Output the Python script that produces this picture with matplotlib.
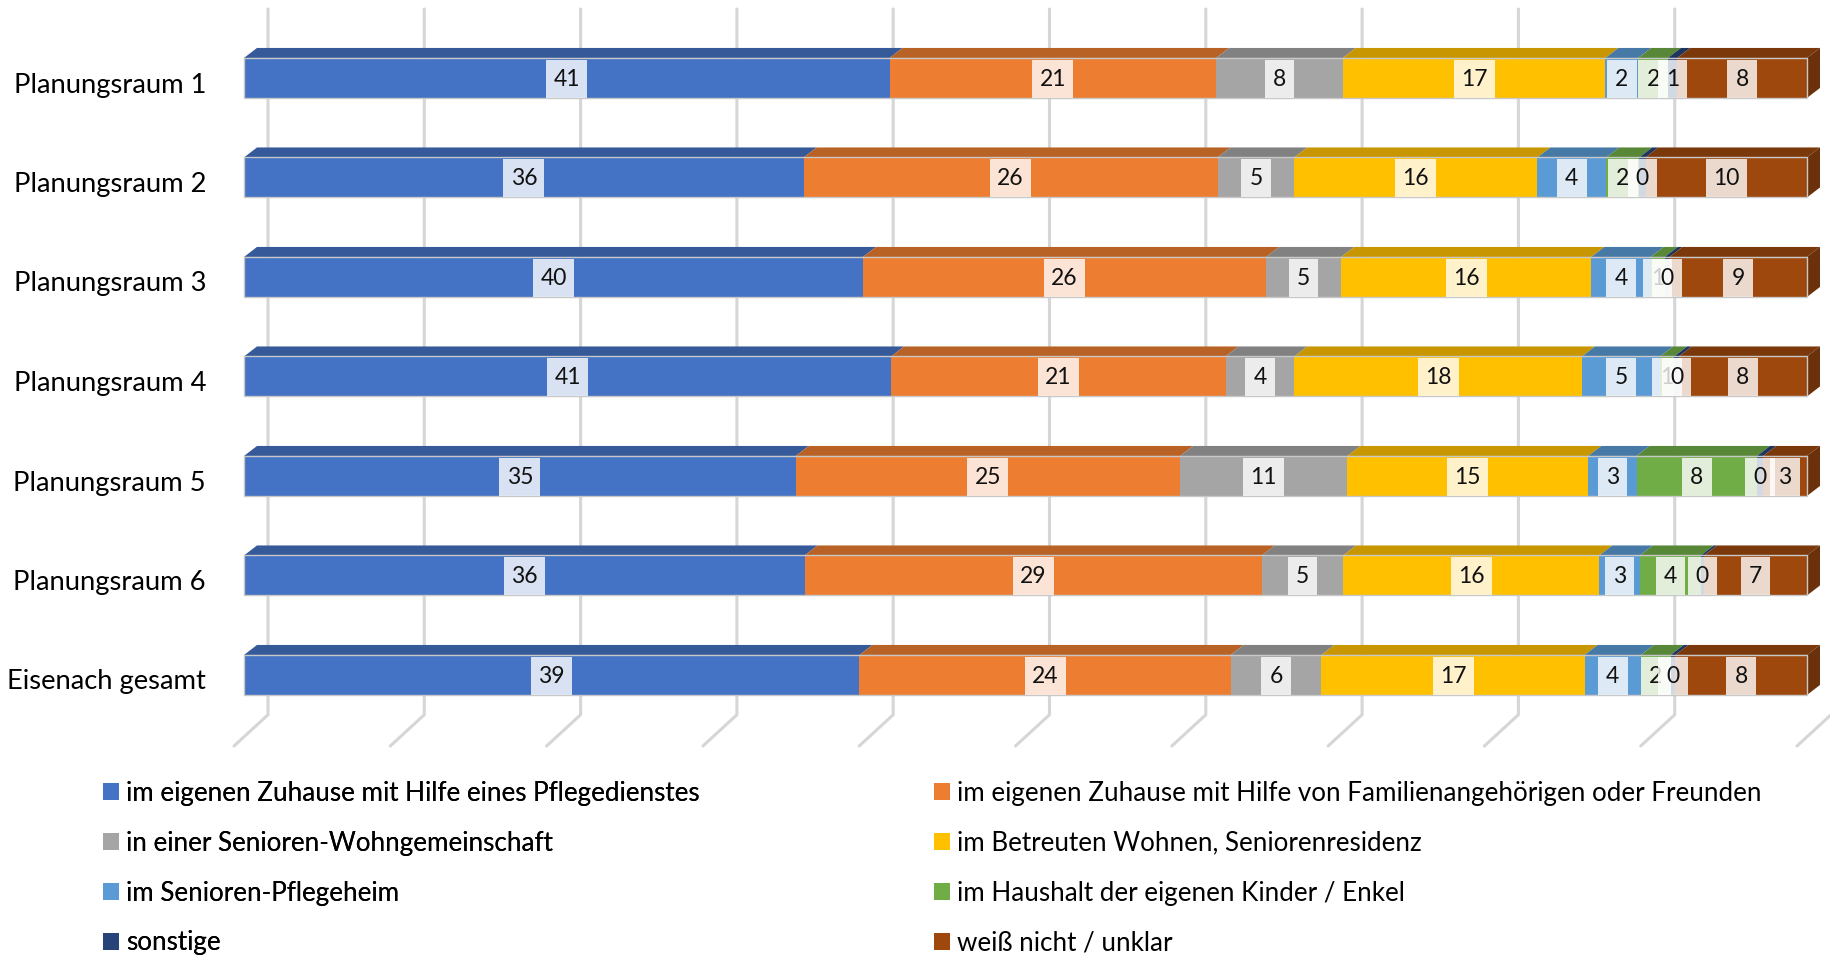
import matplotlib
matplotlib.use("Agg")
import matplotlib.pyplot as plt
from matplotlib.patches import Rectangle, Polygon, Patch
import numpy as np

plt.rcParams['font.family'] = ['Lato', 'DejaVu Sans']

categories = ["Planungsraum 1", "Planungsraum 2", "Planungsraum 3", "Planungsraum 4",
              "Planungsraum 5", "Planungsraum 6", "Eisenach gesamt"]
series_names = [
    "im eigenen Zuhause mit Hilfe eines Pflegedienstes",
    "im eigenen Zuhause mit Hilfe von Familienangehörigen oder Freunden",
    "in einer Senioren-Wohngemeinschaft",
    "im Betreuten Wohnen, Seniorenresidenz",
    "im Senioren-Pflegeheim",
    "im Haushalt der eigenen Kinder / Enkel",
    "sonstige",
    "weiß nicht / unklar",
]
pflegedienst = [41.3, 35.7, 39.6, 41.4, 35.3, 35.9, 39.3]
familie      = [20.9, 26.4, 25.8, 21.4, 24.6, 29.3, 23.7]
wg           = [8.1, 4.9, 4.8, 4.4, 10.7, 5.2, 5.8]
betreut      = [16.8, 15.5, 16.0, 18.4, 15.4, 16.4, 16.8]
pflegeheim   = [2.1, 4.4, 3.8, 5.0, 3.1, 2.6, 3.6]
kinder       = [1.9, 2.1, 0.9, 0.9, 7.7, 3.9, 1.9]
sonstige     = [0.6, 0.4, 0.3, 0.3, 0.4, 0.2, 0.3]
weiss_nicht  = [8.3, 10.3, 8.8, 8.2, 2.8, 6.6, 8.4]
colors = ["#4472C4", "#ED7D31", "#A5A5A5", "#FFC000",
          "#5B9BD5", "#70AD47", "#264478", "#9E480E"]

data = np.array([pflegedienst, familie, wg, betreut, pflegeheim, kinder, sonstige, weiss_nicht])
pct = data / data.sum(axis=0) * 100.0

W, H = 1830, 956
fig = plt.figure(figsize=(W / 100, H / 100), dpi=100)
fig.patch.set_facecolor("white")

ax_left, ax_right, ax_top, ax_bot = 244, 1807, 9, 746
ax = fig.add_axes([ax_left / W, 1 - ax_bot / H, (ax_right - ax_left) / W, (ax_bot - ax_top) / H])
ax.set_xlim(0, 100)
ax.set_ylim(6.714, -0.693)
ax.axis("off")

pxx = (ax_right - ax_left) / 100.0   # px per percent
pxy = 99.5                           # px per row

# back wall gridlines with floor diagonals
wall_dx = 24 / pxx
floor_dx = -10 / pxx
floor_back_y = 6.40
for v in np.arange(0, 101, 10):
    ax.plot([v + wall_dx, v + wall_dx, v + floor_dx], [-0.693, floor_back_y, 6.714],
            color="#D6D6D6", lw=2.2, solid_capstyle="round", solid_joinstyle="round",
            clip_on=False, zorder=1)

def shade(c, f):
    r, g, b = matplotlib.colors.to_rgb(c)
    return (r * f, g * f, b * f)

bar_h = 40 / pxy
ddx = 13 / pxx
ddy = 10 / pxy
box_h = 38 / pxy
digit_w = 11.5 / pxx
box_pad = 9.0 / pxx

for i, cat in enumerate(categories):
    left = 0.0
    ytop = i - bar_h / 2
    ybot = i + bar_h / 2
    for s in range(len(series_names)):
        w = pct[s, i]
        c = colors[s]
        ax.add_patch(Rectangle((left, ytop), w, bar_h, facecolor=c, edgecolor="none",
                               zorder=3, clip_on=False))
        ax.add_patch(Polygon([(left, ytop), (left + w, ytop), (left + w + ddx, ytop - ddy),
                              (left + ddx, ytop - ddy)], closed=True,
                             facecolor=shade(c, 0.78), edgecolor="none", zorder=3, clip_on=False))
        left += w
    last = colors[-1]
    ax.add_patch(Polygon([(left, ytop), (left + ddx, ytop - ddy), (left + ddx, ybot - ddy),
                          (left, ybot)], closed=True, facecolor=shade(last, 0.68),
                         edgecolor="none", zorder=3, clip_on=False))
    ax.add_patch(Rectangle((0, ytop), left, bar_h, facecolor="none", edgecolor="#C8C8C8",
                           lw=1.0, zorder=4, clip_on=False))
    # labels
    left = 0.0
    for s in range(len(series_names)):
        w = pct[s, i]
        txt = f"{int(round(data[s, i]))}"
        cx = left + w / 2
        bw = len(txt) * digit_w + 2 * box_pad
        z = 10 + 2 * s
        ax.add_patch(Rectangle((cx - bw / 2, i - box_h / 2 + 1 / pxy), bw, box_h,
                               facecolor="white", alpha=0.8, edgecolor="none",
                               zorder=z, clip_on=False))
        ax.text(cx, i + 1.5 / pxy, txt, ha="center", va="center",
                fontsize=16.5, color="#111111", zorder=z + 1)
        left += w
    fig.text(206 / W, 1 - (85 + i * pxy) / H, cat, ha="right", va="center",
             fontsize=19.7, color="black")

handles = [Patch(facecolor=c, edgecolor="none") for c in colors]
leg_kw = dict(frameon=False, fontsize=18.7, handlelength=0.62, handleheight=0.62,
              handletextpad=0.27, labelspacing=0.955, borderpad=0, borderaxespad=0,
              loc="upper left")
leg1 = fig.legend([handles[k] for k in (0, 2, 4, 6)], [series_names[k] for k in (0, 2, 4, 6)],
                  bbox_to_anchor=(103 / W, 1 - 781 / H), **leg_kw)
fig.add_artist(leg1)
leg2 = fig.legend([handles[k] for k in (1, 3, 5, 7)], [series_names[k] for k in (1, 3, 5, 7)],
                  bbox_to_anchor=(934 / W, 1 - 781 / H), **leg_kw)

fig.savefig("out.png", dpi=100, facecolor="white")
